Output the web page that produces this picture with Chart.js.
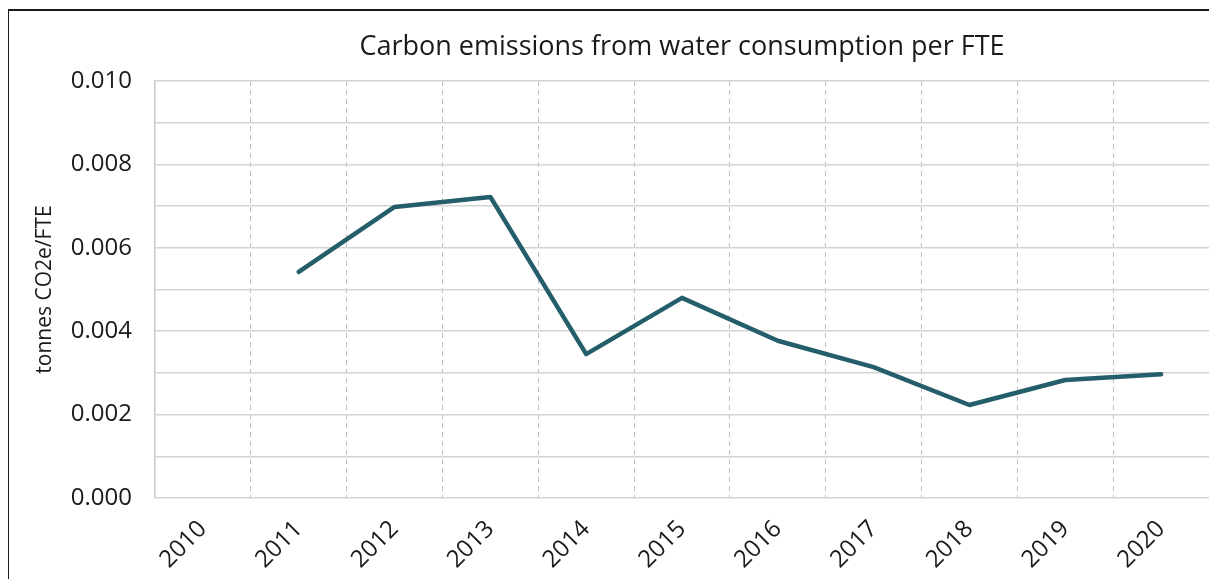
<!DOCTYPE html>
<html lang="en">
<head>
    <meta charset="UTF-8">
    <title>Carbon emissions from water consumption per FTE</title>
    <script src="https://cdn.jsdelivr.net/npm/chart.js"></script>
</head>
<style>
    body {
        margin: 0;
        background: #fff;
        overflow: hidden;
    }
    .wrap {
        position: relative;
        width: 1209px;
        height: 579px;
        overflow: hidden;
    }
    .frame {
        position: absolute;
        left: 8px;
        top: 9px;
        width: 1300px;
        height: 700px;
        border-top: 2px solid #1a1a1a;
        border-left: 1.5px solid #1a1a1a;
        pointer-events: none;
    }
    canvas {
        position: absolute;
        left: 0;
        top: 0;
    }
</style>
<body>
<div class="wrap">
    <canvas id="chart" width="1230" height="579"></canvas>
    <div class="frame"></div>
</div>

<script>
    // data
    var years = ['2010', '2011', '2012', '2013', '2014', '2015', '2016', '2017', '2018', '2019', '2020'];
    var emissions = [null, 0.00542, 0.00698, 0.00722, 0.00345, 0.00480, 0.00377, 0.00314, 0.00223, 0.00283, 0.00297];
    var yMin = 0;
    var yMax = 0.010;
    var yStep = 0.001;

    var fontFamily = "'Open Sans', 'Liberation Sans', sans-serif";

    var ctx = document.getElementById('chart').getContext('2d');
    var myChart = new Chart(ctx, {
        type: 'line',
        data: {
            labels: years,
            datasets: [{
                label: 'tonnes CO2e/FTE',
                data: emissions,
                borderColor: '#255e6b',
                borderWidth: 4.5,
                borderCapStyle: 'round',
                borderJoinStyle: 'round',
                pointRadius: 0,
                tension: 0,
                fill: false
            }]
        },
        options: {
            responsive: false,
            animation: false,
            layout: {
                padding: { top: 10, right: 21, left: 0, bottom: 0 }
            },
            plugins: {
                legend: { display: false },
                tooltip: { enabled: false },
                title: {
                    display: true,
                    fullSize: false,
                    text: 'Carbon emissions from water consumption per FTE',
                    color: '#1a1a1a',
                    font: { family: fontFamily, size: 27, weight: 'normal' },
                    padding: { top: 21, bottom: 17.6 }
                }
            },
            scales: {
                x: {
                    type: 'category',
                    offset: true,
                    grid: {
                        offset: true,
                        // first boundary sits on the solid y axis line
                        color: function (c) {
                            return c.index === 0 ? 'rgba(0,0,0,0)' : '#bfbfbf';
                        },
                        lineWidth: 1,
                        drawTicks: false
                    },
                    border: {
                        display: false,
                        dash: [5, 4]
                    },
                    ticks: {
                        color: '#1a1a1a',
                        font: { family: fontFamily, size: 24 },
                        minRotation: 45,
                        maxRotation: 45,
                        padding: 17
                    },
                    afterFit: function (scale) {
                        scale.height = 81;
                    }
                },
                y: {
                    min: yMin,
                    max: yMax,
                    grid: {
                        color: '#d4d4d4',
                        lineWidth: 1.5,
                        drawTicks: false
                    },
                    border: {
                        display: true,
                        color: '#c8c8c8',
                        width: 1.5
                    },
                    ticks: {
                        stepSize: yStep,
                        color: '#1a1a1a',
                        font: { family: fontFamily, size: 24 },
                        padding: 23,
                        callback: function (value) {
                            var n = Math.round(value / yStep);
                            return n % 2 === 0 ? value.toFixed(3) : '';
                        }
                    },
                    title: {
                        display: true,
                        text: 'tonnes CO2e/FTE',
                        color: '#1a1a1a',
                        font: { family: fontFamily, size: 21 },
                        padding: { top: 32, bottom: 0 }
                    },
                    afterFit: function (scale) {
                        scale.width = 155;
                    }
                }
            }
        }
    });
</script>
</body>
</html>
